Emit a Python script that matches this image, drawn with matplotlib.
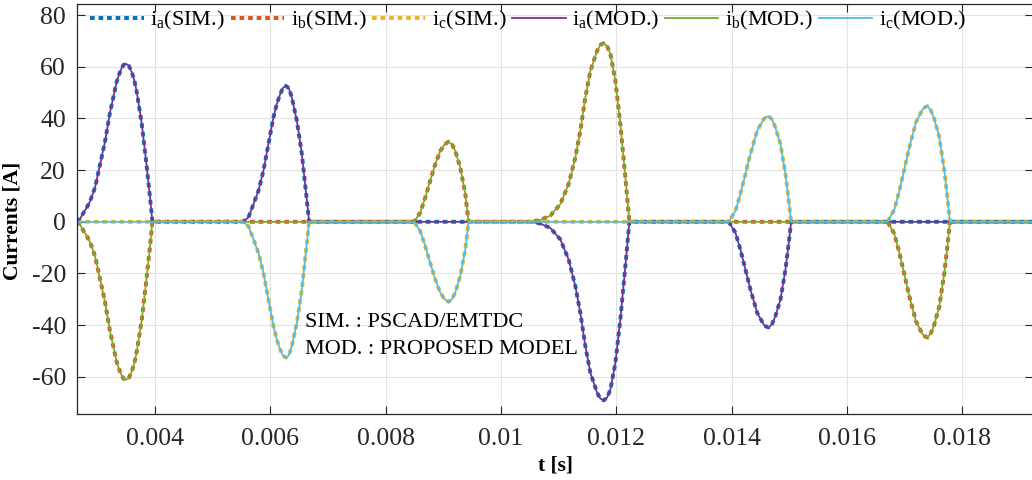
import numpy as np
import matplotlib
matplotlib.use("Agg")
import matplotlib.pyplot as plt

plt.rcParams["font.family"] = ["Liberation Serif", "DejaVu Serif"]
plt.rcParams["mathtext.fontset"] = "custom"
plt.rcParams["mathtext.rm"] = "Liberation Serif"
plt.rcParams["mathtext.it"] = "Liberation Serif"
plt.rcParams["axes.unicode_minus"] = False

# Conduction pulses: sample times [s] and current magnitude [A]
p1_t = [0.002641, 0.002700, 0.002756, 0.002815, 0.002872, 0.002959, 0.003046, 0.003132,
        0.003219, 0.003335, 0.003380, 0.003422, 0.003457, 0.003492, 0.003545, 0.003596,
        0.003640, 0.003682, 0.003769, 0.003856, 0.003913, 0.003953]
p1_i = [0.0, 1.2, 3.4, 5.5, 7.9, 13.3, 22.2, 31.1, 42.4, 54.3, 57.3, 59.6, 60.8, 61.2,
        60.4, 57.9, 54.8, 50.3, 38.0, 21.2, 9.4, 0.0]

p2_t = [0.005522, 0.005619, 0.005706, 0.005793, 0.005879, 0.005966, 0.006053, 0.006110,
        0.006169, 0.006220, 0.006268, 0.006320, 0.006372, 0.006459, 0.006546, 0.006620,
        0.006672]
p2_i = [0.0, 1.7, 6.8, 12.0, 19.7, 30.1, 40.4, 45.5, 49.4, 51.9, 52.6, 51.7, 48.1, 39.1,
        26.2, 10.8, 0.0]

p3_t = [0.008495, 0.008599, 0.008686, 0.008772, 0.008859, 0.008946, 0.009020, 0.009090,
        0.009150, 0.009206, 0.009293, 0.009380, 0.009437]
p3_i = [0.0, 3.6, 9.4, 15.9, 22.3, 27.4, 29.9, 31.0, 29.9, 27.4, 21.0, 10.8, 0.0]

p4_t = [0.010508, 0.010681, 0.010855, 0.011028, 0.011172, 0.011289, 0.011375, 0.011462,
        0.011549, 0.011665, 0.011722, 0.011780, 0.011838, 0.011896, 0.011983, 0.012069,
        0.012156, 0.012226]
p4_i = [0.0, 0.7, 2.4, 6.8, 14.6, 24.9, 35.2, 48.1, 58.4, 66.1, 68.4, 69.1, 68.1, 65.0,
        54.6, 37.8, 17.2, 0.0]

p5_t = [0.013949, 0.014065, 0.014152, 0.014239, 0.014325, 0.014442, 0.014556, 0.014600,
        0.014643, 0.014700, 0.014759, 0.014846, 0.014933, 0.014990, 0.015032]
p5_i = [0.0, 4.2, 10.8, 18.5, 26.2, 35.2, 39.8, 40.6, 40.9, 39.6, 36.5, 30.1, 18.5, 8.1,
        0.0]

p6_t = [0.016703, 0.016819, 0.016906, 0.016993, 0.017079, 0.017196, 0.017310, 0.017355,
        0.017397, 0.017455, 0.017513, 0.017600, 0.017686, 0.017744, 0.017785]
p6_i = [0.0, 4.6, 11.8, 20.2, 28.6, 38.5, 43.5, 44.4, 44.8, 43.1, 39.9, 32.9, 20.2, 8.9,
        0.0]

pulse_t = [p1_t, p2_t, p3_t, p4_t, p5_t, p6_t]
pulse_i = [p1_i, p2_i, p3_i, p4_i, p5_i, p6_i]

# Polarity of each phase (a, b, c) during each pulse: +1 out, -1 return, 0 off
sign_a = [1, 1, 0, -1, -1, 0]
sign_b = [-1, 0, 1, 1, 0, -1]
sign_c = [0, -1, -1, 0, 1, 1]

t_start, t_stop = 0.002641, 0.0195

xticks = [0.004, 0.006, 0.008, 0.010, 0.012, 0.014, 0.016, 0.018]
xtick_labels = ["0.004", "0.006", "0.008", "0.01", "0.012", "0.014", "0.016", "0.018"]
yticks = [-60, -40, -20, 0, 20, 40, 60, 80]
ytick_labels = ["-60", "-40", "-20", "0", "20", "40", "60", "80"]


def phase_wave(signs):
    t = [t_start]
    i = [0.0]
    for pt, pi, s in zip(pulse_t, pulse_i, signs):
        t += list(pt)
        i += [s * v for v in pi]
    t.append(t_stop)
    i.append(0.0)
    return np.array(t), np.array(i)


ta, ia = phase_wave(sign_a)
tb, ib = phase_wave(sign_b)
tc, ic = phase_wave(sign_c)

sim_colors = ["#0072BD", "#D95319", "#EDB120"]
mod_colors = ["#7E2F8E", "#77AC30", "#4DBEEE"]

fig = plt.figure(figsize=(10.32, 4.8), dpi=100)
ax = fig.add_axes([77 / 1032, 66 / 480, 956 / 1032, 410 / 480])

dot = (0, (1.2, 1.0))
for (t, i), c, n in zip([(ta, ia), (tb, ib), (tc, ic)], sim_colors, "abc"):
    ax.plot(t, i, color=c, lw=2.8, ls=dot, label=r"i$_\mathrm{%s}$(SIM.)" % n)
for (t, i), c, n in zip([(ta, ia), (tb, ib), (tc, ic)], mod_colors, "abc"):
    ax.plot(t, i, color=c, lw=1.3, label=r"i$_\mathrm{%s}$(MOD.)" % n)

ax.set_xlim(0.002646, 0.019226)
ax.set_ylim(-74.4, 84.3)
ax.set_xticks(xticks)
ax.set_xticklabels(xtick_labels)
ax.set_yticks(yticks)
ax.set_yticklabels(ytick_labels)
ax.tick_params(direction="in", length=6, width=0.8, labelsize=18.5, colors="#262626",
               top=True, right=True, pad=10)
ax.tick_params(axis="y", pad=8)
ax.grid(True, color="#e3e3e3", lw=0.8)
ax.set_axisbelow(True)
for sp in ax.spines.values():
    sp.set_color("#262626")
    sp.set_linewidth(0.9)

ax.set_xlabel("t [s]", fontsize=15.5, fontweight="bold", labelpad=4)
ax.set_ylabel("Currents [A]", fontsize=15.5, fontweight="bold")
ax.yaxis.set_label_coords(-0.057, 0.47)

ax.text(0.0066, -38.8, "SIM. : PSCAD/EMTDC", fontsize=16, va="center")
ax.text(0.0066, -49.4, "MOD. : PROPOSED MODEL", fontsize=16, va="center")

ax.legend(loc="upper left", bbox_to_anchor=(0.0, 1.02), ncol=6, frameon=False,
          fontsize=16, handlelength=2.4, handletextpad=0.3, columnspacing=0.25,
          borderaxespad=0.2)

fig.savefig("out.png", dpi=100)
